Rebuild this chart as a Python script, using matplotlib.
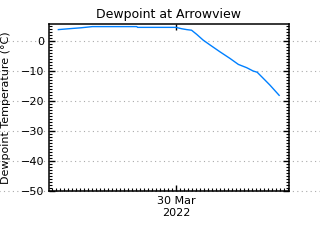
import matplotlib
matplotlib.use('Agg')
import matplotlib.pyplot as plt
from matplotlib.ticker import MultipleLocator

# hours relative to 30 Mar 2022 00:00
hours = [-29.4, -26.7, -23.8, -20.9, -9.8, -9.6, -7.1, 0.0, 1.4, 2.7, 3.9, 5.2,
         6.8, 8.5, 11.0, 13.5, 15.6, 17.7, 19.3, 20.3, 21.8, 23.5, 25.8]
dewpoint = [3.8, 4.1, 4.4, 4.8, 4.8, 4.55, 4.55, 4.55, 4.1, 3.8, 3.6, 2.2,
            0.3, -1.3, -3.6, -5.8, -7.8, -8.9, -10.0, -10.4, -12.4, -14.7, -18.1]
yticks = [0, -10, -20, -30, -40, -50]
xtick_pos = [0]
xtick_labels = ['30 Mar\n2022']

fig = plt.figure(figsize=(3.2, 2.4), dpi=100)
ax = fig.add_axes([0.153, 0.204, 0.75, 0.696])

ax.plot(hours, dewpoint, color='#0080ff', lw=1.0)

ax.set_xlim(-31.75, 28.25)
ax.set_ylim(-50, 5.67)
ax.set_yticks(yticks)
ax.set_yticklabels([str(v).replace('-', '\u2212') for v in yticks])
ax.set_xticks(xtick_pos)
ax.set_xticklabels(xtick_labels)
ax.xaxis.set_minor_locator(MultipleLocator(1))
ax.yaxis.set_minor_locator(MultipleLocator(1))
ax.tick_params(which='both', direction='in', right=True, labelsize=8)
ax.tick_params(which='major', length=4, width=1, top=True)
ax.tick_params(which='minor', length=2, width=0.8, top=False)
for s in ax.spines.values():
    s.set_linewidth(1.1)

# dotted grid that runs across the whole figure
for v in yticks:
    ax.axhline(v, xmin=-0.21, xmax=1.14, color='#aaaaaa', ls=(0, (1, 3)), lw=0.8,
               clip_on=False, zorder=0)

ax.set_title('Dewpoint at Arrowview', fontsize=9, pad=4)
fig.text(0.018, 0.55, 'Dewpoint Temperature (\u00b0C)', rotation=90, fontsize=8,
         ha='center', va='center')

fig.savefig('out.png', dpi=100)
